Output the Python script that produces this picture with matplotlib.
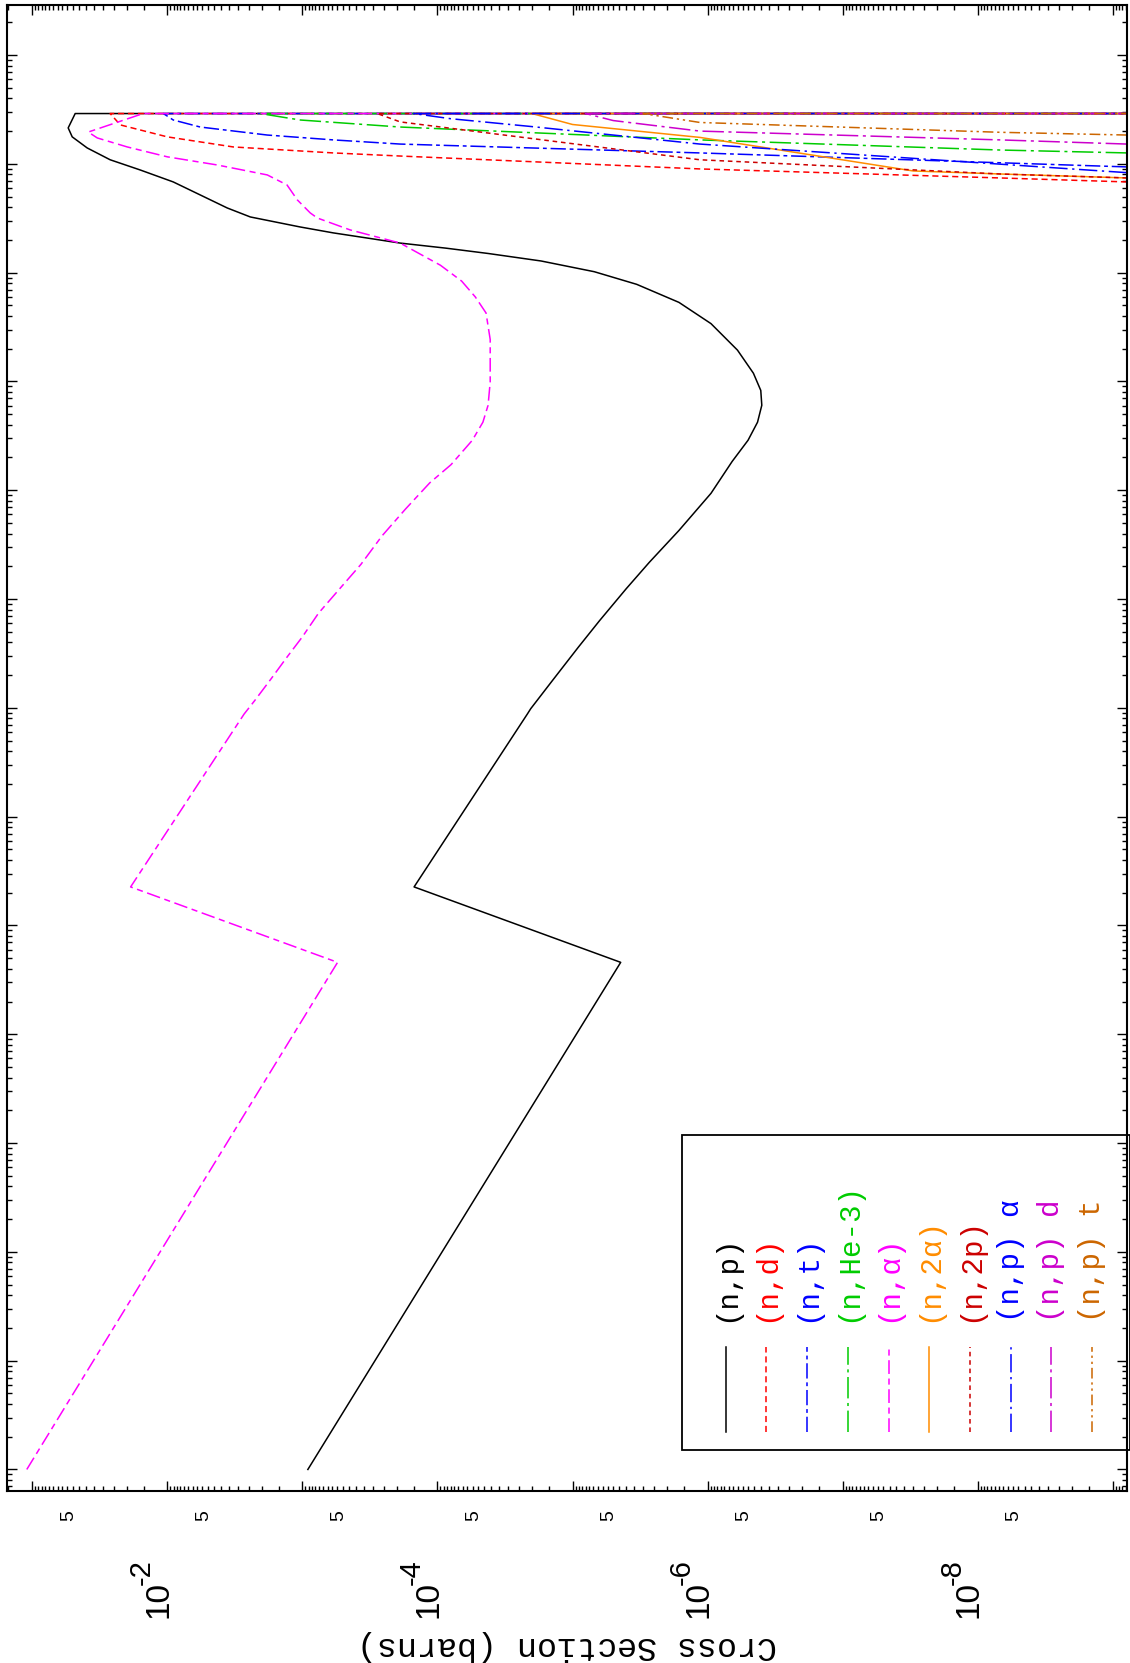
import numpy as np
import matplotlib
matplotlib.use("Agg")
import matplotlib.pyplot as plt
from matplotlib.ticker import LogLocator, NullFormatter
from matplotlib.transforms import blended_transform_factory, offset_copy

# ---------------- data (sigma in barns, E in eV) ----------------
E_TOP = 2.9e7
SIG_ZERO = 1e-12

np_E = [1e-5, 0.458, 2.26, 87.8, 98.2, 176, 361, 633, 1242, 2177, 4270, 9370,
        1.84e4, 2.88e4, 4.22e4, 6.04e4, 8.27e4, 1.19e5, 1.94e5, 3.40e5, 5.33e5,
        7.81e5, 1.02e6, 1.28e6, 1.50e6, 1.68e6, 1.87e6, 2.08e6, 2.32e6, 2.63e6,
        3.25e6, 3.93e6, 5.18e6, 6.82e6, 8.79e6, 1.09e7, 1.40e7, 1.77e7, 2.14e7,
        E_TOP, E_TOP]
np_sig = [9.11e-4, 4.40e-6, 1.49e-4, 2.16e-5, 2.04e-5, 1.42e-5, 9.06e-6, 6.31e-6,
          4.01e-6, 2.70e-6, 1.63e-6, 9.44e-7, 6.58e-7, 5.02e-7, 4.27e-7, 3.97e-7,
          4.04e-7, 4.58e-7, 6.01e-7, 9.44e-7, 1.63e-6, 3.35e-6, 6.90e-6, 1.71e-5,
          4.21e-5, 8.68e-5, 1.89e-4, 3.31e-4, 5.91e-4, 1.04e-3, 2.43e-3, 3.60e-3,
          5.71e-3, 9.04e-3, 1.59e-2, 2.65e-2, 3.92e-2, 5.06e-2, 5.42e-2, 4.81e-2,
          SIG_ZERO]

na_E = [1e-5, 0.458, 2.26, 87.8, 117, 184, 289, 452, 741, 1242, 2081, 3815, 6690,
        1.17e4, 1.72e4, 2.88e4, 4.22e4, 6.04e4, 9.90e4, 2.43e5, 4.26e5, 5.97e5,
        8.36e5, 1.17e6, 1.87e6, 2.47e6, 3.18e6, 3.54e6, 4.66e6, 6.40e6, 7.91e6,
        9.77e6, 1.16e7, 1.43e7, 1.73e7, 1.96e7, E_TOP, E_TOP]
na_sig = [0.1098, 5.49e-4, 1.87e-2, 2.70e-3, 2.25e-3, 1.71e-3, 1.31e-3, 9.97e-4,
          7.60e-4, 5.30e-4, 3.69e-4, 2.57e-4, 1.73e-4, 1.14e-4, 7.93e-5, 5.52e-5,
          4.61e-5, 4.22e-5, 4.07e-5, 4.07e-5, 4.37e-5, 5.24e-5, 6.62e-5, 9.51e-5,
          1.89e-4, 4.43e-4, 7.76e-4, 8.75e-4, 1.09e-3, 1.30e-3, 1.82e-3, 4.28e-3,
          1.00e-2, 1.98e-2, 3.30e-2, 3.85e-2, 1.51e-2, SIG_ZERO]

nd_E = [6.82e6, 7.42e6, 8.98e6, 1.18e7, 1.26e7, 1.43e7, 1.77e7, 2.28e7, E_TOP, E_TOP]
nd_sig = [7.85e-10, 6.84e-9, 1.14e-6, 1.89e-4, 5.91e-4, 3.25e-3, 1.00e-2, 2.23e-2,
          2.65e-2, SIG_ZERO]

nt_E = [9.37e6, 1.26e7, 1.52e7, 1.66e7, 1.84e7, 2.18e7, 2.53e7, E_TOP, E_TOP]
nt_sig = [7.85e-10, 1.14e-6, 1.89e-4, 5.91e-4, 1.82e-3, 5.71e-3, 9.04e-3, 1.07e-2,
          SIG_ZERO]

nh_E = [1.26e7, 1.34e7, 1.66e7, 2.18e7, 2.53e7, E_TOP, E_TOP]
nh_sig = [7.85e-10, 6.84e-9, 1.14e-6, 1.89e-4, 1.04e-3, 2.05e-3, SIG_ZERO]

n2a_E = [7.42e6, 8.07e6, 8.6e6, 1.75e7, 2.3e7, E_TOP, E_TOP]
n2a_sig = [7.85e-10, 6.84e-9, 3.0e-8, 1.14e-6, 1.0e-5, 2.0e-5, SIG_ZERO]

n2p_E = [7.42e6, 8.07e6, 1.09e7, 2.43e7, E_TOP, E_TOP]
n2p_sig = [7.85e-10, 6.84e-9, 1.14e-6, 1.89e-4, 2.79e-4, SIG_ZERO]

npa_E = [8.3e6, 1.52e7, 2.2e7, 2.6e7, E_TOP, E_TOP]
npa_sig = [7.85e-10, 1.14e-6, 2.0e-5, 8.0e-5, 1.5e-4, SIG_ZERO]

npd_E = [1.52e7, 1.66e7, 2.0e7, 2.5e7, E_TOP, E_TOP]
npd_sig = [7.85e-10, 6.84e-9, 1.14e-6, 5.0e-6, 8.0e-6, SIG_ZERO]

npt_E = [1.84e7, 1.95e7, 2.4e7, E_TOP, E_TOP]
npt_sig = [7.85e-10, 6.84e-9, 1.14e-6, 3.0e-6, SIG_ZERO]

labels = ["(n,p)", "(n,d)", "(n,t)", "(n,He-3)", "(n,\u03b1)", "(n,2\u03b1)",
          "(n,2p)", "(n,p) \u03b1", "(n,p) d", "(n,p) t"]
colors = ["#000000", "#ff0000", "#0000ff", "#00cc00", "#ff00ff", "#ff8c00",
          "#cc0000", "#0000ff", "#cc00cc", "#cc6600"]
styles = ["-", (0, (4, 2.5)), (0, (10, 2.5, 2.5, 2.5)), (0, (14, 3, 2, 3)),
          (0, (9, 3, 4, 3)), "-", (0, (3, 2.5)), (0, (12, 3, 1.5, 3)),
          (0, (14, 3, 2, 3)), (0, (7, 2.5, 1.5, 2.5, 1.5, 2.5))]
series = [(np_sig, np_E), (nd_sig, nd_E), (nt_sig, nt_E), (nh_sig, nh_E),
          (na_sig, na_E), (n2a_sig, n2a_E), (n2p_sig, n2p_E), (npa_sig, npa_E),
          (npd_sig, npd_E), (npt_sig, npt_E)]

sigma_major = [1e-2, 1e-4, 1e-6, 1e-8]
sigma_fives = [5e-2, 5e-3, 5e-4, 5e-5, 5e-6, 5e-7, 5e-8, 5e-9]

# ---------------- figure ----------------
W, H = 1130, 1663
fig = plt.figure(figsize=(W / 100, H / 100), dpi=100)
ax = fig.add_axes([7 / W, 1 - 1491 / H, 1120 / W, 1486 / H])
ax.set_xscale("log")
ax.set_yscale("log")
ax.set_xlim(10 ** -0.813, 10 ** -9.105)
ax.set_ylim(10 ** -5.198, 10 ** 8.46)

for (s, e), lab, c, ls in zip(series, labels, colors, styles):
    ax.plot(s, e, color=c, linestyle=ls, lw=1.1, clip_on=True)

for sp in ax.spines.values():
    sp.set_linewidth(1.5)

ax.xaxis.set_major_locator(LogLocator(base=10, numticks=30))
ax.xaxis.set_minor_locator(LogLocator(base=10, subs=np.arange(1.5, 10, 0.5), numticks=30))
ax.yaxis.set_major_locator(LogLocator(base=10, numticks=30))
ax.yaxis.set_minor_locator(LogLocator(base=10, subs=np.arange(2, 10), numticks=30))
ax.xaxis.set_major_formatter(NullFormatter())
ax.xaxis.set_minor_formatter(NullFormatter())
ax.yaxis.set_major_formatter(NullFormatter())
ax.yaxis.set_minor_formatter(NullFormatter())
ax.tick_params(which="both", direction="in", top=True, bottom=True, left=True,
               right=True, width=1.0)
ax.tick_params(which="major", length=7.5)
ax.tick_params(which="minor", length=3.5)

# tick labels (rotated)
tr = blended_transform_factory(ax.transData, fig.transFigure)
for v in sigma_major:
    k = int(round(np.log10(v)))
    ax.text(v, 1 - 1618 / H, "10", transform=tr,
            rotation=90, rotation_mode="anchor", ha="left", va="baseline",
            fontsize=24, family="Liberation Sans", clip_on=False)
    tr_sup = offset_copy(tr, fig=fig, x=-12.5, y=24.0, units="points")
    ax.text(v, 1 - 1618 / H, "-%d" % (-k), transform=tr_sup,
            rotation=90, rotation_mode="anchor", ha="left", va="baseline",
            fontsize=21, family="Liberation Sans", clip_on=False)
for v in sigma_fives:
    ax.text(v, 1 - 1521 / H, "5", transform=tr, rotation=90,
            rotation_mode="anchor", ha="left", va="baseline", fontsize=14,
            family="Liberation Sans", clip_on=False)

fig.text(567 / W, 1 - 1646 / H, "Cross Section (barns)", rotation=180,
         ha="center", va="center", fontsize=24, family="Liberation Mono")

# legend drawn rotated, in axes coordinates
def axx(px):
    return (px - 7) / 1120

def axy(py):
    return (1491 - py) / 1486

ax.add_patch(plt.Rectangle((axx(682), axy(1450)), axx(1130) - axx(682),
                           axy(1135) - axy(1450), transform=ax.transAxes,
                           fill=False, lw=1.3, ec="black", zorder=5,
                           clip_on=False))
for i, (lab, c, ls) in enumerate(zip(labels, colors, styles)):
    xc = axx(725.7 + 40.7 * i)
    ax.plot([xc, xc], [axy(1432), axy(1347)], transform=ax.transAxes, color=c,
            linestyle=ls, lw=1.1, zorder=6)
    ax.text(xc, axy(1322), lab, transform=ax.transAxes, rotation=90,
            rotation_mode="anchor", ha="left", va="center", color=c,
            fontsize=21, family="Liberation Mono", zorder=6)

fig.savefig("out.png", dpi=100)
